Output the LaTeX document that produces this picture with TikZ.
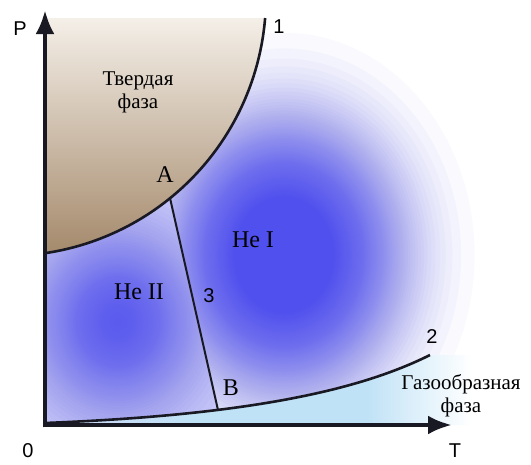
\documentclass[tikz,border=0pt]{standalone}
\usepackage{fontspec}
\setmainfont{Liberation Serif}
\newfontfamily\lsans{Liberation Sans}
\usetikzlibrary{arrows.meta}
\definecolor{blobblue}{RGB}{80,80,238}
\definecolor{lavbase}{RGB}{215,215,252}
\definecolor{brownD}{RGB}{165,138,108}
\definecolor{brownL}{RGB}{244,239,232}
\definecolor{gascyan}{RGB}{192,226,246}
\definecolor{gasL}{RGB}{205,215,246}
\definecolor{ink}{RGB}{25,25,35}
\pgfdeclarehorizontalshading{gasshade}{100bp}{color(0bp)=(gasL); color(25bp)=(gasL); color(42bp)=(gascyan); color(62bp)=(gascyan); color(74bp)=(white); color(100bp)=(white)}
% soft blob: centre (#1,#2), scales #3,#4, peak opacity #5, exponent #6
\newcommand{\myblob}[6]{%
  \foreach \k in {1,...,110}{%
    \pgfmathsetmacro\cov{1-0.97^\k}%
    \pgfmathtruncatemacro\ok{\cov<#5 ? 1 : 0}%
    \ifnum\ok=1
      \pgfmathsetmacro\f{pow(ln(#5/\cov),1/#6)}%
      \fill[blobblue,fill opacity=0.03] (#1,#2) ellipse ({#3*\f} and {#4*\f});
    \fi
  }}
\tikzset{
  curveline/.style={draw=ink,line width=2.6pt},
  thinline/.style={draw=ink,line width=2pt},
  axisline/.style={draw=ink,line width=4.5pt,-{Latex[length=24pt,width=19pt]}},
  serlab/.style={font=\fontsize{21}{23}\selectfont,inner sep=0pt,align=center},
  bigser/.style={font=\fontsize{24}{26}\selectfont,inner sep=0pt},
  sanslab/.style={font=\lsans\fontsize{20}{22}\selectfont,inner sep=0pt}
}
\begin{document}
\begin{tikzpicture}[x=1pt,y=-1pt]
\path[fill=white] (0,0) rectangle (531,464);
% solid phase
\shade[top color=brownL,bottom color=brownD]
  plot[domain=81.56:4.65,samples=80,smooth] ({7+259*cos(\x)},{-3+259*sin(\x)}) -- (45,18) -- cycle;
% liquid helium region
\begin{scope}
\clip plot[domain=81.56:4.65,samples=80,smooth] ({7+259*cos(\x)},{-3+259*sin(\x)})
  -- (265,0) -- (531,0) -- (531,355) -- (430,355)
  .. controls (360,390) and (250,415) .. (45,423) -- cycle;
  % He II cell (left of line 3)
  \begin{scope}
  \clip (125.2,0) -- (230.2,464) -- (0,464) -- (0,0) -- cycle;
  \fill[lavbase] (0,0) rectangle (240,464);
  \myblob{118}{322}{92}{100}{0.82}{2}
  \end{scope}
  % He I cell (right of line 3)
  \begin{scope}
  \clip (125.2,0) -- (230.2,464) -- (531,464) -- (531,0) -- cycle;
  \myblob{284}{255}{126}{147}{0.95}{3}
  \end{scope}
\end{scope}
% gas region
\shade[shading=gasshade]
  (45,423) .. controls (250,415) and (360,390) .. (430,355) -- (480,355) -- (480,425) -- (45,425) -- cycle;
% points
\coordinate (A) at (170,198);
\coordinate (B) at (218,410);
\coordinate (C2s) at (45,423);
\coordinate (C2e) at (430,355);
% curves
\draw[curveline] plot[domain=81.56:4.65,samples=80,smooth] ({7+259*cos(\x)},{-3+259*sin(\x)});
\draw[curveline] (C2s) .. controls (250,415) and (360,390) .. (C2e);
\draw[thinline] (A) -- (B);
% axes
\coordinate (O) at (45,425);
\coordinate (Ptop) at (45,10);
\coordinate (Tend) at (452,425);
\draw[axisline] (45,427.25) -- (Ptop);
\draw[axisline] (42.75,425) -- (Tend);
% labels
\node[sanslab] (lP) at (20,29) {P};
\node[sanslab] (l1) at (279,27) {1};
\node[serlab] (solid) at (138,92) {Твердая\\фаза};
\node[bigser] (lA) at (165,175) {A};
\node[bigser] (heI) at (253,240) {He I};
\node[bigser] (heII) at (139,292) {He II};
\node[sanslab] (l3) at (209,296) {3};
\node[sanslab] (l2) at (432,337) {2};
\node[bigser] (lB) at (231,388) {B};
\node[serlab] (gas) at (461,396) {Газообразная\\фаза};
\node[sanslab] (l0) at (28,451) {0};
\node[sanslab] (lT) at (455,451) {T};
\end{tikzpicture}
\end{document}
